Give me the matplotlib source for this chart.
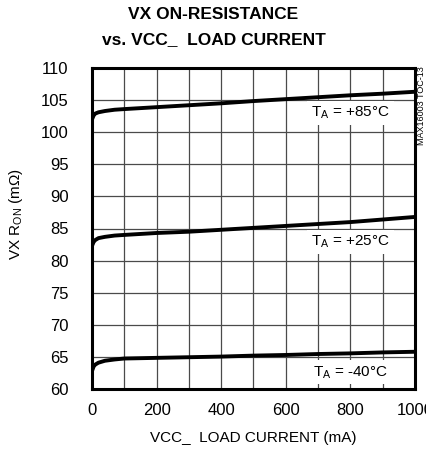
import numpy as np
import matplotlib
matplotlib.use('Agg')
import matplotlib.pyplot as plt

plt.rcParams['font.family'] = ['Liberation Sans', 'DejaVu Sans']

# load current (mA) and on-resistance (mOhm)
current = [0, 5, 10, 20, 40, 70, 100, 200, 300, 400, 500, 600, 700, 800, 900, 1000]
r_85 = [102.0, 102.6, 102.9, 103.1, 103.3, 103.5, 103.6, 103.9, 104.2, 104.5, 104.85, 105.15, 105.45, 105.75, 106.0, 106.3]
r_25 = [82.3, 82.9, 83.2, 83.5, 83.7, 83.9, 84.0, 84.3, 84.5, 84.8, 85.1, 85.4, 85.7, 86.0, 86.4, 86.8]
r_m40 = [62.8, 63.5, 63.8, 64.1, 64.4, 64.6, 64.75, 64.85, 64.95, 65.05, 65.2, 65.3, 65.45, 65.55, 65.7, 65.8]

labels = ['T$_\\mathregular{A}$ = +85°C', 'T$_\\mathregular{A}$ = +25°C', 'T$_\\mathregular{A}$ = -40°C']
label_y = [103.0, 82.9, 62.6]

fig = plt.figure(figsize=(4.27, 4.51), dpi=100)
ax = fig.add_axes([92/427, 1 - 389/451, 323/427, 321/451])

for r in (r_85, r_25, r_m40):
    ax.plot(current, r, color='black', lw=2.8, solid_capstyle='butt', zorder=3)

for lab, y in zip(labels, label_y):
    ax.text(800, y, lab, ha='center', va='center', fontsize=11, zorder=4,
            bbox=dict(facecolor='white', edgecolor='none', boxstyle='square,pad=0.25'))

ax.set_xlim(0, 1000)
ax.set_ylim(60, 110)
ax.set_xticks(np.arange(0, 1001, 100))
ax.set_xticklabels(['0', '', '200', '', '400', '', '600', '', '800', '', '1000'])
ax.set_yticks(np.arange(60, 111, 5))
ax.tick_params(length=0, labelsize=12)
ax.tick_params(axis='y', pad=17)
ax.tick_params(axis='x', pad=10)
ax.grid(True, color='#4a4a4a', lw=0.9)
for s in ax.spines.values():
    s.set_linewidth(2.2)
    s.set_zorder(5)

ax.set_xlabel('VCC_  LOAD CURRENT (mA)', fontsize=11, va='center')
ax.xaxis.set_label_coords(0.5, -0.153)
ax.set_ylabel('VX R$_\\mathregular{ON}$ (m\u03a9)', fontsize=11, va='center')
ax.yaxis.set_label_coords(-0.235, 0.545)
fig.text(0.5, 1 - 14.5/451, 'VX ON-RESISTANCE', ha='center', va='center',
         fontsize=12.5, fontweight='bold')
fig.text(0.5, 1 - 39.5/451, 'vs. VCC_  LOAD CURRENT', ha='center', va='center',
         fontsize=12.5, fontweight='bold')
fig.text(422/427, 1 - 106/451, 'MAX16003 TOC-13', rotation=90, ha='center', va='center',
         fontsize=6.5)

fig.savefig('out.png', dpi=100)
